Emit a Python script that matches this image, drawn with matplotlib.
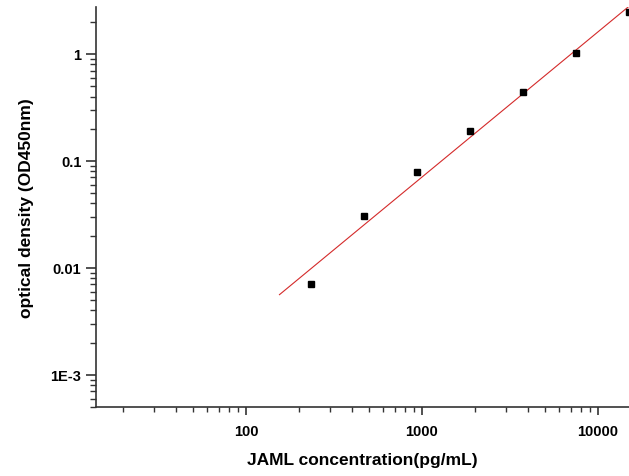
import numpy as np
import matplotlib
matplotlib.use("Agg")
import matplotlib.pyplot as plt
from matplotlib.ticker import FixedLocator, LogLocator, NullFormatter
from matplotlib import font_manager

plt.rcParams['font.family'] = ['Liberation Sans', 'DejaVu Sans']
plt.rcParams['font.weight'] = 'bold'

names = set(f.name for f in font_manager.fontManager.ttflist)
label_family = ['Liberation Sans Narrow'] if 'Liberation Sans Narrow' in names else ['Liberation Sans']
label_size = 15.7 if 'Liberation Sans Narrow' in names else 12.5

# standard curve points
conc = [234.4, 468.75, 937.5, 1875, 3750, 7500, 15000]
od = [0.0071, 0.0306, 0.079, 0.191, 0.444, 1.03, 2.45]

# fitted power curve: log10(y) = fit_b*log10(x) + fit_a
fit_a = -5.225
fit_b = 1.358
fit_x = [155, 15000]

x_ticks = [100, 1000, 10000]
x_labels = ["100", "1000", "10000"]
y_ticks = [0.001, 0.01, 0.1, 1]
y_labels = ["1E-3", "0.01", "0.1", "1"]


fig = plt.figure(figsize=(6.29, 4.77), dpi=100)
ax = fig.add_axes([96/629, 69/477, 533/629, 400/477])

xs = np.logspace(np.log10(fit_x[0]), np.log10(fit_x[1]), 50)
ax.plot(xs, 10**(fit_a + fit_b*np.log10(xs)), color='#d42a2a', lw=0.8, zorder=2)
ax.plot(conc, od, 's', color='black', ms=5, zorder=3, clip_on=False)

ax.set_xscale('log')
ax.set_yscale('log')
ax.set_xlim(14.06, 15000)
ax.set_ylim(5e-4, 2.75)

ax.xaxis.set_major_locator(FixedLocator(x_ticks))
ax.set_xticklabels(x_labels)
ax.yaxis.set_major_locator(FixedLocator(y_ticks))
ax.set_yticklabels(y_labels)
ax.xaxis.set_minor_locator(LogLocator(base=10, subs=np.arange(2, 10)))
ax.yaxis.set_minor_locator(LogLocator(base=10, subs=np.arange(2, 10)))
ax.xaxis.set_minor_formatter(NullFormatter())
ax.yaxis.set_minor_formatter(NullFormatter())

for s in ['top', 'right']:
    ax.spines[s].set_visible(False)
for s in ['left', 'bottom']:
    ax.spines[s].set_color('#333333')
    ax.spines[s].set_linewidth(1.2)

ax.tick_params(axis='x', which='major', length=6, width=1.2, color='#333333', labelsize=10.5, pad=6)
ax.tick_params(axis='y', which='major', length=7.5, width=1.2, color='#333333', labelsize=10.5, pad=3)
ax.tick_params(axis='x', which='minor', length=3.5, width=1, color='#333333')
ax.tick_params(axis='y', which='minor', length=4, width=1, color='#333333')

ax.set_xlabel('JAML concentration(pg/mL)', family=label_family, fontsize=label_size,
              fontweight='bold', labelpad=10)
ax.set_ylabel('optical density (OD450nm)', family=label_family, fontsize=label_size,
              fontweight='bold', labelpad=12)

fig.savefig('out.png', dpi=100)
